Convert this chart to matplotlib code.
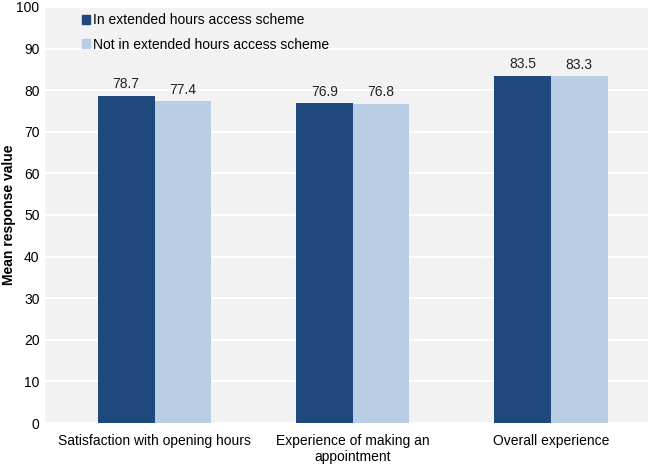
import numpy as np
from matplotlib import pyplot as plt
from matplotlib.patches import Patch

categories = ['Satisfaction with opening hours', 'Experience of making an\nappointment', 'Overall experience']
in_scheme = [78.7, 76.9, 83.5]
not_in_scheme = [77.4, 76.8, 83.3]
series_names = ['In extended hours access scheme', 'Not in extended hours access scheme']

dark = '#1f497d'
light = '#b9cde5'

plt.rcParams['font.family'] = ['Liberation Sans', 'DejaVu Sans']

fig = plt.figure(figsize=(6.5, 4.65), dpi=100)
ax = fig.add_axes([45 / 650, 42 / 465, 603 / 650, 416 / 465])
ax.set_facecolor('#f2f2f2')

x = np.arange(len(categories))
w = 0.286
b1 = ax.bar(x - w / 2, in_scheme, w, color=dark, zorder=3)
b2 = ax.bar(x + w / 2, not_in_scheme, w, color=light, zorder=3)

for bars, vals in ((b1, in_scheme), (b2, not_in_scheme)):
    for rect, v in zip(bars, vals):
        ax.text(rect.get_x() + rect.get_width() / 2, v + 1.0, f'{v:.1f}',
                ha='center', va='bottom', fontsize=10, color='#222222')

ax.set_ylim(0, 100)
ax.set_yticks(np.arange(0, 101, 10))
ax.set_xlim(-0.553, 2.49)
ax.set_xticks(x)
ax.set_xticklabels(categories, fontsize=10)
ax.tick_params(axis='y', labelsize=10, length=0, pad=4)
ax.tick_params(axis='x', length=0, pad=8)
ax.yaxis.grid(True, color='white', linewidth=1.5, zorder=0)
for s in ax.spines.values():
    s.set_visible(False)
fig.text(9 / 650, 1 - 215 / 465, 'Mean response value', rotation=90,
         ha='center', va='center', fontsize=10, fontweight='bold')

handles = [Patch(color=dark), Patch(color=light)]
ax.legend(handles, series_names, loc='upper left', bbox_to_anchor=(0.04, 1.015),
          frameon=False, fontsize=10, handlelength=0.6, handleheight=0.6,
          handletextpad=0.25, labelspacing=0.75)

fig.savefig('out.png', dpi=100)
